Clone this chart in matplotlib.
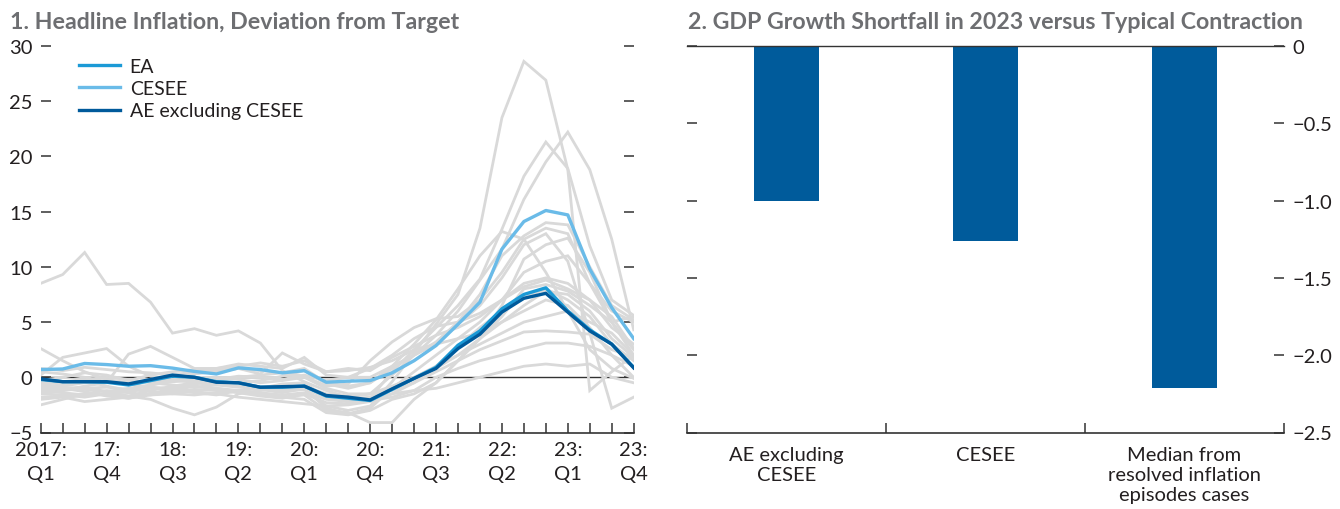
import matplotlib
matplotlib.use("Agg")
import matplotlib.pyplot as plt
import numpy as np
from matplotlib.ticker import FixedLocator, FixedFormatter

# ---------------- data: panel 1 ----------------
quarters = ["2017Q1", "2017Q2", "2017Q3", "2017Q4", "2018Q1", "2018Q2", "2018Q3", "2018Q4",
            "2019Q1", "2019Q2", "2019Q3", "2019Q4", "2020Q1", "2020Q2", "2020Q3", "2020Q4",
            "2021Q1", "2021Q2", "2021Q3", "2021Q4", "2022Q1", "2022Q2", "2022Q3", "2022Q4",
            "2023Q1", "2023Q2", "2023Q3", "2023Q4"]
tick_quarters = ["2017Q1", "2017Q4", "2018Q3", "2019Q2", "2020Q1", "2020Q4",
                 "2021Q3", "2022Q2", "2023Q1", "2023Q4"]
tick_labels = ["2017:\nQ1", "17:\nQ4", "18:\nQ3", "19:\nQ2", "20:\nQ1", "20:\nQ4",
               "21:\nQ3", "22:\nQ2", "23:\nQ1", "23:\nQ4"]

ea = [-0.2, -0.4, -0.4, -0.45, -0.7, -0.3, 0.1, 0.0, -0.4, -0.5, -0.9, -0.9, -0.8, -1.7,
      -1.9, -2.1, -1.1, -0.1, 0.9, 2.9, 4.2, 6.2, 7.5, 8.1, 6.0, 4.3, 3.0, 0.9]
cesee = [0.7, 0.75, 1.25, 1.15, 1.0, 1.05, 0.83, 0.53, 0.3, 0.85, 0.7, 0.4, 0.6, -0.45,
         -0.35, -0.3, 0.4, 1.5, 2.87, 4.8, 6.8, 11.6, 14.1, 15.1, 14.7, 9.8, 6.3, 3.5]
ae_ex_cesee = [-0.15, -0.4, -0.4, -0.4, -0.6, -0.2, 0.2, 0.0, -0.45, -0.5, -0.9, -0.85, -0.8,
               -1.65, -1.8, -2.05, -1.05, -0.1, 0.8, 2.6, 3.9, 5.9, 7.15, 7.6, 5.9, 4.2, 3.0, 0.85]

# individual economies (grey)
c01 = [8.5, 9.3, 11.3, 8.4, 8.5, 6.8, 4.0, 4.4, 3.8, 4.2, 3.1, 0.6, -0.4, -1.2, -1.8, -1.5,
       0.2, 2.0, 3.8, 6.0, 8.8, 11.6, 16.1, 19.5, 22.2, 18.8, 12.5, 4.3]
c02 = [-0.6, -0.9, -1.1, -1.3, -1.0, -0.7, -0.4, -0.3, -0.6, -0.8, -1.0, -1.3, -1.1, -2.6,
       -3.0, -2.6, -0.4, 2.2, 4.8, 7.5, 13.5, 23.5, 28.6, 26.9, 18.8, -1.2, 0.5, 2.0]
c03 = [-1.2, -1.4, -1.6, -1.5, -1.7, -1.2, -0.8, -0.5, -0.7, -0.9, -1.0, -0.6, -0.5, -1.8,
       -2.2, -1.9, 0.5, 2.5, 4.5, 6.5, 8.9, 13.4, 18.2, 21.3, 18.9, 11.9, 7.0, 5.6]
c04 = [2.6, 1.5, 0.5, -0.2, -0.5, -0.4, -0.2, 0.3, 0.5, 0.8, 0.6, 0.4, 0.8, -0.5, -0.8, -0.5,
       0.8, 2.0, 3.2, 5.0, 7.5, 11.0, 12.8, 14.0, 13.8, 10.0, 6.5, 5.2]
c05 = [-2.5, -2.0, -1.5, -1.2, -1.4, -1.6, -1.5, -1.2, -1.0, -1.3, -1.6, -1.8, -2.0, -3.2,
       -3.4, -3.0, -2.0, -1.5, -0.5, 1.5, 3.5, 6.5, 10.7, 12.0, 12.6, 9.5, 5.0, 2.0]
c06 = [0.2, 1.8, 2.2, 2.6, 1.0, 0.1, -0.2, -0.5, -0.3, 0.0, 0.2, 0.4, 0.1, -0.8, -0.6, 1.5,
       3.2, 4.5, 5.3, 5.5, 7.0, 9.5, 12.5, 13.5, 13.0, 8.5, 6.0, 5.0]
c07 = [-0.8, -1.0, -0.9, -1.3, -1.7, -2.0, -2.8, -3.4, -2.7, -1.5, -1.2, -1.0, -1.1, -1.8,
       -2.0, -1.8, -1.0, -0.2, 0.8, 2.0, 3.5, 5.5, 8.0, 8.4, 7.8, 6.5, 5.0, 2.5]
c08 = [-1.0, -1.2, -0.8, -0.5, 2.1, 2.8, 1.8, 0.8, 0.8, 1.0, 1.3, 1.0, 1.5, 0.5, 0.6, 0.9,
       1.5, 2.5, 3.0, 3.5, 4.0, 5.0, 6.5, 7.8, 7.5, 6.0, 3.5, 1.8]
c09 = [-0.3, 0.0, 0.4, 0.2, -0.3, 0.2, 0.5, 0.7, 0.6, 0.8, 0.3, 2.2, 1.2, 0.5, 0.8, 0.6,
       1.8, 2.8, 3.8, 4.5, 5.5, 7.0, 8.5, 9.0, 8.5, 7.0, 4.5, 3.0]
c10 = [-1.5, -1.6, -1.8, -1.5, -1.3, -1.0, -1.1, -1.4, -1.6, -1.2, -1.5, -1.8, -1.6, -3.0,
       -3.2, -4.1, -4.1, -2.0, -0.5, 1.5, 3.5, 5.0, 6.0, 7.0, 6.5, 4.5, 2.0, 0.0]
c11 = [-0.5, -0.6, -0.3, -0.8, -1.2, -0.7, -0.3, -0.1, 0.0, -0.2, -0.5, -0.3, 0.0, -1.0,
       -1.5, -1.5, -1.2, -0.5, 0.5, 1.5, 2.5, 3.3, 4.1, 4.2, 4.1, 3.9, 2.5, 1.8]
c12 = [-1.8, -1.7, -1.5, -1.6, -1.9, -1.6, -1.3, -1.1, -1.2, -1.4, -1.7, -1.9, -1.5, -2.3,
       -2.4, -2.1, -1.8, -1.2, 0.0, 0.8, 1.5, 2.0, 2.6, 3.1, 3.1, 2.8, 2.0, 1.0]
c13 = [-1.2, -1.0, -1.3, -1.7, -1.9, -1.5, -1.2, -0.8, -1.0, -1.2, -1.4, -1.6, -1.4, -2.0,
       -2.2, -2.0, -1.5, -1.2, -1.0, -0.5, 0.0, 0.5, 1.0, 1.2, 1.0, 1.2, 0.0, -0.5]
c14 = [0.5, 0.3, 0.0, -0.4, -0.6, -0.3, 0.2, 0.5, 0.8, 1.2, 1.0, 0.8, 1.8, 0.2, 0.0, 0.0,
       1.0, 2.0, 3.0, 4.8, 6.5, 9.0, 12.0, 13.0, 10.5, 4.0, -2.8, -1.8]
c15 = [-0.3, -0.4, -0.2, 0.0, -0.2, -0.5, -0.7, -0.9, -0.7, -0.5, -0.3, 0.1, 0.6, -0.6,
       -1.0, -0.5, 1.0, 3.0, 5.2, 8.0, 11.0, 13.2, 12.5, 9.5, 6.0, 2.5, 0.8, -0.1]
c16 = [-1.0, -0.8, -0.5, -0.3, -0.6, -0.9, -1.0, -1.3, -1.5, -1.8, -2.0, -2.2, -2.4, -2.6,
       -2.5, -2.2, -1.5, -0.5, 1.0, 2.8, 4.5, 6.0, 7.2, 8.0, 7.0, 5.5, 3.0, 1.5]
c17 = [-2.0, -1.8, -2.2, -2.0, -1.8, -1.5, -1.0, -0.6, -0.4, -0.8, -1.1, -1.4, -1.0, -2.8,
       -3.3, -2.8, -1.0, 0.5, 2.0, 3.5, 5.0, 7.0, 9.5, 10.5, 11.0, 8.5, 5.0, 5.5]
c18 = [0.8, 0.6, 0.9, 0.7, 0.5, 0.4, 0.2, 0.0, -0.2, 0.1, 0.0, -0.2, 0.2, -0.3, 0.0, 0.8,
       2.0, 3.5, 4.6, 5.0, 5.8, 7.0, 8.2, 8.8, 8.0, 7.0, 5.5, 2.6]
c19 = [-1.4, -1.2, -1.0, -0.9, -1.1, -1.3, -1.5, -1.6, -1.4, -1.2, -1.0, -1.2, -0.8, -1.5,
       -1.7, -1.5, -0.8, 0.0, 1.0, 2.0, 3.0, 4.0, 5.0, 5.5, 6.0, 5.0, 4.0, 2.0]
countries = [c01, c02, c03, c04, c05, c06, c07, c08, c09, c10,
             c11, c12, c13, c14, c15, c16, c17, c18, c19]

# ---------------- data: panel 2 ----------------
gdp_categories = ["AE excluding\nCESEE", "CESEE", "Median from\nresolved inflation\nepisodes cases"]
gdp_shortfall = [-1.0, -1.26, -2.21]
right_ticks = [0, -0.5, -1.0, -1.5, -2.0, -2.5]
right_tick_labels = ["0", "\u22120.5", "\u22121.0", "\u22121.5", "\u22122.0", "\u22122.5"]
left_ticks = [-5, 0, 5, 10, 15, 20, 25, 30]

# ---------------- style ----------------
plt.rcParams['font.family'] = ['Lato', 'DejaVu Sans']
TXT = '#231f20'
GREY = '#d9d9d9'
C_EA = '#1b9ad6'
C_CESEE = '#6abbe8'
C_AE = '#005a9b'
C_BAR = '#005b9b'
TITLE_C = '#6d6e71'
FS = 14
FS_TICK = 14.5
FS_TITLE = 16.7

fig = plt.figure(figsize=(13.4, 5.1), dpi=100)

# ---------------- panel 1 ----------------
ax1 = fig.add_axes([0.0304, 0.150, 0.4425, 0.758])
x = np.arange(len(quarters))
ax1.axhline(0, color='#333333', lw=1.0, zorder=1)
for c in countries:
    ax1.plot(x, c, color=GREY, lw=2.0, zorder=2, solid_joinstyle='miter')
ax1.plot(x, ea, color=C_EA, lw=2.4, zorder=4, label='EA')
ax1.plot(x, cesee, color=C_CESEE, lw=2.4, zorder=3, label='CESEE')
ax1.plot(x, ae_ex_cesee, color=C_AE, lw=2.4, zorder=5, label='AE excluding CESEE')

ax1.set_xlim(0, len(quarters) - 1)
ax1.set_ylim(-5, 30)
for s in ['top', 'left', 'right']:
    ax1.spines[s].set_visible(False)
ax1.spines['bottom'].set_color('#333333')
ax1.spines['bottom'].set_linewidth(1.2)

major_pos = [quarters.index(q) for q in tick_quarters]
ax1.xaxis.set_major_locator(FixedLocator(major_pos))
ax1.xaxis.set_major_formatter(FixedFormatter(tick_labels))
ax1.xaxis.set_minor_locator(FixedLocator(list(x)))
ax1.tick_params(axis='x', which='both', direction='in', length=7, width=1.1,
                color='#333333', labelsize=FS_TICK, labelcolor=TXT, pad=6)
ax1.set_yticks(left_ticks)
ax1.set_yticklabels([str(v) if v >= 0 else '\u2212' + str(-v) for v in left_ticks])
ax1.tick_params(axis='y', direction='in', length=7, width=1.1, color='#333333',
                left=True, right=True, labelleft=True, labelright=False,
                labelsize=FS_TICK, labelcolor=TXT, pad=6)
for lab in ax1.get_xticklabels():
    lab.set_linespacing(1.5)

leg = ax1.legend(loc='upper left', bbox_to_anchor=(0.045, 1.0), frameon=False,
                 fontsize=FS, handlelength=2.1, handletextpad=0.5, labelspacing=0.28,
                 borderaxespad=0.2)
for t in leg.get_texts():
    t.set_color(TXT)

# ---------------- panel 2 ----------------
ax2 = fig.add_axes([0.5127, 0.150, 0.4455, 0.758])
pos = np.arange(len(gdp_categories))
ax2.bar(pos, gdp_shortfall, width=0.33, color=C_BAR, zorder=2)
ax2.axhline(0, color='#333333', lw=1.0, zorder=3, clip_on=False)
ax2.set_xlim(-0.5, len(gdp_categories) - 0.5)
ax2.set_ylim(-2.5, 0)
for s in ['top', 'left', 'right']:
    ax2.spines[s].set_visible(False)
ax2.spines['bottom'].set_color('#333333')
ax2.spines['bottom'].set_linewidth(1.2)
ax2.set_xticks(pos)
ax2.set_xticklabels(gdp_categories)
ax2.xaxis.set_minor_locator(FixedLocator(list(np.arange(-0.5, len(gdp_categories), 1.0))))
ax2.tick_params(axis='x', which='major', length=0, labelsize=FS_TICK, labelcolor=TXT, pad=10)
ax2.tick_params(axis='x', which='minor', direction='in', length=7, width=1.1, color='#333333')
for lab in ax2.get_xticklabels():
    lab.set_linespacing(1.2)
    lab.set_verticalalignment('top')
ax2.set_yticks(right_ticks)
ax2.set_yticklabels(right_tick_labels)
ax2.tick_params(axis='y', direction='in', length=7, width=1.1, color='#333333',
                left=True, right=True, labelleft=False, labelright=True,
                labelsize=FS_TICK, labelcolor=TXT, pad=6)

# ---------------- titles ----------------
fig.text(0.0075, 0.943, "1. Headline Inflation, Deviation from Target", fontsize=FS_TITLE,
         fontweight='bold', color=TITLE_C, ha='left', va='baseline')
fig.text(0.5134, 0.943, "2. GDP Growth Shortfall in 2023 versus Typical Contraction",
         fontsize=FS_TITLE, fontweight='bold', color=TITLE_C, ha='left', va='baseline')

fig.savefig('out.png', dpi=100)
